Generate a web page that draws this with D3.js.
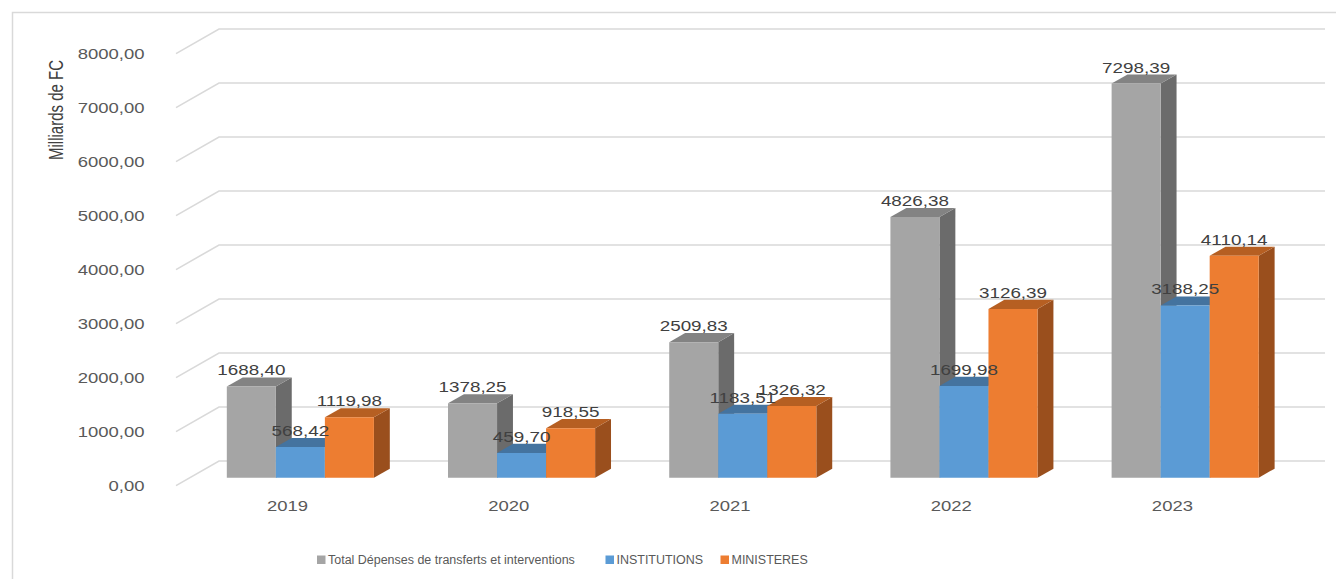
<!DOCTYPE html>
<html>
<head>
<meta charset="utf-8">
<script src="https://cdn.jsdelivr.net/npm/d3@7"></script>
<style>
  html, body { margin: 0; padding: 0; background: #fff; }
  svg { display: block; }
  text { font-family: "Liberation Sans", Arial, sans-serif; }
</style>
</head>
<body>
<svg id="chart" width="1336" height="579"></svg>
<script>
// Dépenses de transferts et interventions (milliards de FC)
const years = ["2019", "2020", "2021", "2022", "2023"];
const seriesNames = ["Total Dépenses de transferts et interventions", "INSTITUTIONS", "MINISTERES"];
const totalValues = [1688.40, 1378.25, 2509.83, 4826.38, 7298.39];
const institutionValues = [568.42, 459.70, 1183.51, 1699.98, 3188.25];
const ministereValues = [1119.98, 918.55, 1326.32, 3126.39, 4110.14];
const yTicks = [0, 1000, 2000, 3000, 4000, 5000, 6000, 7000, 8000];
const axisTitle = "Milliards de FC";

const seriesValues = [totalValues, institutionValues, ministereValues];
const colors = [
  { front: "#a5a5a5", top: "#838383", side: "#6b6b6b" },
  { front: "#5b9bd5", top: "#44739f", side: "#3b6791" },
  { front: "#ed7d31", top: "#b65f22", side: "#9a4f1d" }
];

const svg = d3.select("#chart");
const W = 1336, H = 579;

// French number format: comma as decimal separator
const fr = d3.formatLocale({ decimal: ",", thousands: "", grouping: [3], currency: ["", " FC"] });
const fmt = fr.format(".2f");

// 3D box geometry: front plane + floor depth offset
const frontLeft = 176, frontRight = 1282;
const depthDx = 43, depthDy = -24.6;
const barZ0 = 0.32, barZ1 = 0.69;

const y = d3.scaleLinear().domain([0, 8000]).range([485.6, 53.6]);
const x = d3.scaleBand().domain(years).range([frontLeft, frontRight]).paddingInner(0.335).paddingOuter(0.1675);
const xs = d3.scaleBand().domain(d3.range(seriesNames.length)).range([0, x.bandwidth()]);

const proj = (px, v, z) => [px + z * depthDx, y(v) + z * depthDy];

// Outer chart frame
svg.append("rect")
  .attr("x", 12.5).attr("y", 12.5)
  .attr("width", W + 10).attr("height", H + 10)
  .attr("fill", "none").attr("stroke", "#d9d9d9").attr("stroke-width", 1.5);

// Gridlines: floor/side diagonal then back wall
const grid = svg.append("g");
yTicks.forEach(t => {
  const a = proj(frontLeft, t, 0), b = proj(frontLeft, t, 1), c = proj(frontRight, t, 1);
  grid.append("path")
    .attr("d", `M${a[0]},${a[1]}L${b[0]},${b[1]}L${c[0]},${c[1]}`)
    .attr("fill", "none").attr("stroke", "#d9d9d9").attr("stroke-width", 1.6);
});

// Horizontally widened text helper
function stretchedText(g, tx, ty, str, opts) {
  return g.append("text")
    .attr("transform", `translate(${tx},${ty}) scale(${opts.sx || 1},1)${opts.rotate ? ` rotate(${opts.rotate})` : ""}`)
    .attr("text-anchor", opts.anchor || "middle")
    .attr("font-size", opts.size)
    .attr("fill", opts.color)
    .text(str);
}

// Y tick labels
const axisG = svg.append("g");
yTicks.forEach(t => {
  stretchedText(axisG, 144.5, y(t) + 5, fmt(t), { anchor: "end", size: 14, sx: 1.32, color: "#595959" });
});

// Axis title
stretchedText(axisG, 63, 110, axisTitle, { size: 15, sx: 1.3, rotate: -90, color: "#404040" });

// Bars (drawn left to right so later fronts hide earlier side faces)
const barsG = svg.append("g");
years.forEach((yr, i) => {
  seriesValues.forEach((vals, s) => {
    const v = vals[i];
    const x0 = x(yr) + xs(s), x1 = x0 + xs.bandwidth();
    const c = colors[s];
    const fbl = proj(x0, 0, barZ0), fbr = proj(x1, 0, barZ0);
    const ftl = proj(x0, v, barZ0), ftr = proj(x1, v, barZ0);
    const btl = proj(x0, v, barZ1), btr = proj(x1, v, barZ1);
    const bbr = proj(x1, 0, barZ1);
    const g = barsG.append("g");
    // right side
    g.append("path").attr("d", `M${fbr}L${ftr}L${btr}L${bbr}Z`).attr("fill", c.side);
    // top
    g.append("path").attr("d", `M${ftl}L${ftr}L${btr}L${btl}Z`).attr("fill", c.top);
    // front
    g.append("path").attr("d", `M${fbl}L${fbr}L${ftr}L${ftl}Z`).attr("fill", c.front);
  });
});

// Value labels above each bar
const labelsG = svg.append("g");
years.forEach((yr, i) => {
  seriesValues.forEach((vals, s) => {
    const v = vals[i];
    const cx = x(yr) + xs(s) + xs.bandwidth() / 2 + barZ0 * depthDx;
    const topBack = proj(0, v, barZ1)[1];
    stretchedText(labelsG, cx, topBack - 2, fmt(v), { size: 14.5, sx: 1.3, color: "#404040" });
  });
});

// Category labels
const catG = svg.append("g");
years.forEach(yr => {
  stretchedText(catG, x(yr) + x.bandwidth() / 2 + 1, 510.7, yr, { size: 14, sx: 1.32, color: "#595959" });
});

// Legend
const legendX = [317, 605.5, 720.5];
const legendG = svg.append("g");
seriesNames.forEach((name, s) => {
  legendG.append("rect")
    .attr("x", legendX[s]).attr("y", 555.5).attr("width", 8.5).attr("height", 8.5)
    .attr("fill", colors[s].front);
  stretchedText(legendG, legendX[s] + 11, 564.3, name, { anchor: "start", size: 12, sx: 1.04, color: "#595959" });
});
</script>
</body>
</html>
